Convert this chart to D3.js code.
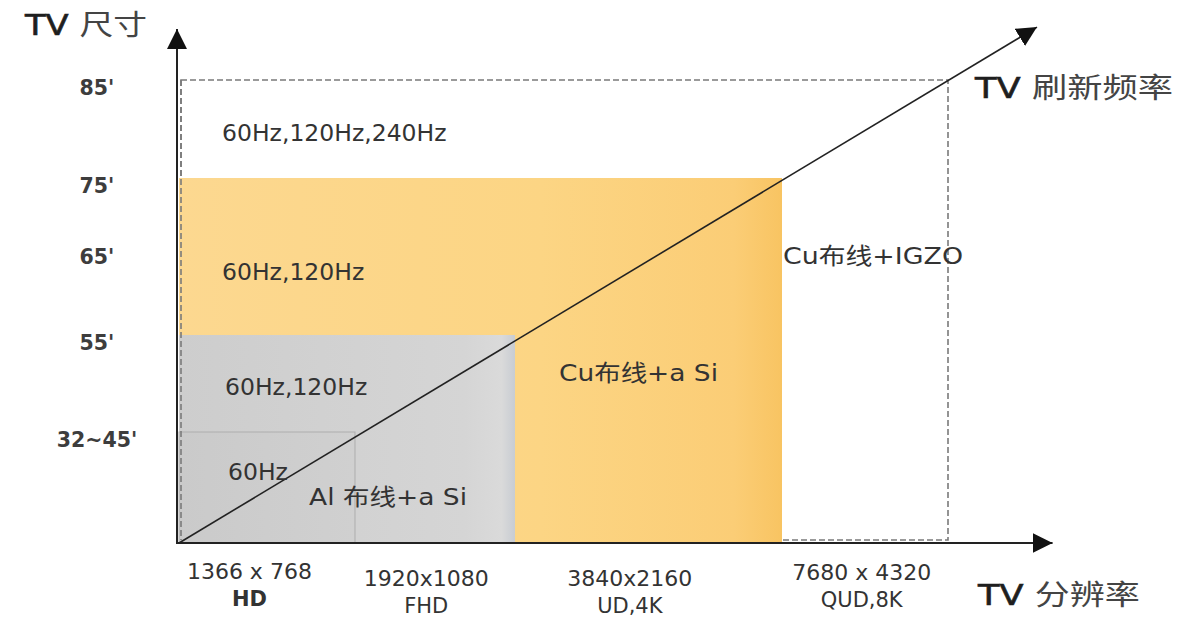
<!DOCTYPE html>
<html><head><meta charset="utf-8">
<script src="https://cdn.jsdelivr.net/npm/d3@7"></script>
<style>
body{margin:0;background:#fff}
text{font-family:"DejaVu Sans","Noto Sans CJK SC",sans-serif;fill:#333}
</style>
</head><body>
<svg id="c" width="1197" height="620"></svg>
<script>
// ---- data ----
const resolutions = ["1366 x 768","1920x1080","3840x2160","7680 x 4320"];
const resNames = ["HD","FHD","UD,4K","QUD,8K"];
const sizeLabels = ["32~45'","55'","65'","75'","85'"];
const sizeValues = [45,55,65,75,85];
const regionNames = ["outer","orange","grayUpper","grayLower"];
const regionRes = [4,3,2,1];             // region extends to this resolution tier
const regionSize = [85,75,55,45];        // region extends to this TV size
const regionTexts = ["60Hz,120Hz,240Hz","60Hz,120Hz","60Hz,120Hz","60Hz","Al 布线+a Si","Cu布线+a Si","Cu布线+IGZO"];
const titleLatin = ["TV","TV","TV"];
const titleCJK = ["尺寸","刷新频率","分辨率"];

// ---- layout ----
const x = d3.scaleLinear().domain([0,1,2,3,4]).range([179,355,515,782,948]);
const y = d3.scaleLinear().domain([0,45,55,65,75,85]).range([543,432,335,249,178,80]);
const tickPos = [0.40,0.445,0.43,0.48];
const tickDy = [-4,3,3,-3];
const regionTextLayout = [
  {x:222,y:133},{x:222,y:272},{x:225,y:387},{x:228,y:472},
  {x:309,y:497,w:158},{x:559,y:373,w:159},{x:783,y:256,w:180}
];
const titleLayout = [
  {x:25,y:25,w:122},{x:975,y:88,w:198},{x:978,y:595,w:162}
];

const svg = d3.select("#c");
const defs = svg.append("defs");
function grad(id, stops){
  const g = defs.append("linearGradient").attr("id",id).attr("x1","0").attr("x2","1").attr("y1","0").attr("y2","0");
  stops.forEach(s=>g.append("stop").attr("offset",s[0]).attr("stop-color",s[1]));
}
grad("og",[["0%","#fcd890"],["60%","#fcd584"],["92%","#fbcd76"],["100%","#f8c462"]]);
grad("gg",[["0%","#cdcdcd"],["85%","#d5d5d5"],["96%","#dadada"],["100%","#c8ccd2"]]);
grad("gg2",[["0%","#cacaca"],["100%","#d0d0d0"]]);
defs.append("marker").attr("id","ah").attr("viewBox","0 -5 10 10").attr("refX",10).attr("refY",0)
  .attr("markerUnits","userSpaceOnUse").attr("markerWidth",20).attr("markerHeight",20).attr("orient","auto")
  .append("path").attr("d","M0,-5L10,0L0,5Z").attr("fill","#111");

// dashed outer frame (under the fills)
const oi = regionNames.indexOf("outer");
const dash = {stroke:"#7a7a7a", w:1.6, d:"6,3"};
svg.append("rect")
  .attr("x",x(0)+2).attr("y",y(regionSize[oi]))
  .attr("width",x(regionRes[oi])-x(0)-2).attr("height",y(0)-y(regionSize[oi])-3)
  .attr("fill","none").attr("stroke",dash.stroke).attr("stroke-width",dash.w).attr("stroke-dasharray",dash.d);

// regions
const fills = {orange:"url(#og)",grayUpper:"url(#gg)",grayLower:"url(#gg2)"};
regionNames.forEach((n,i)=>{
  if(n==="outer") return;
  const r = svg.append("rect")
    .attr("x",x(0)).attr("y",y(regionSize[i]))
    .attr("width",x(regionRes[i])-x(0)).attr("height",y(0)-y(regionSize[i]))
    .attr("fill",fills[n]);
  if(n==="grayLower") r.attr("stroke","#adadad").attr("stroke-width",1);
});
// left dashed edge visible over the fills
svg.append("line").attr("x1",x(0)+2).attr("x2",x(0)+2).attr("y1",y(regionSize[oi])).attr("y2",y(0)-3)
  .attr("stroke",dash.stroke).attr("stroke-width",dash.w).attr("stroke-dasharray",dash.d);

// axes lines with arrows
svg.append("line").attr("x1",x(0)-2).attr("y1",y(0)).attr("x2",x(4.63)).attr("y2",y(0))
  .attr("stroke","#222").attr("stroke-width",2).attr("marker-end","url(#ah)");
svg.append("line").attr("x1",x(0)-2).attr("y1",y(0)+1).attr("x2",x(0)-2).attr("y2",y(90.2))
  .attr("stroke","#222").attr("stroke-width",2).attr("marker-end","url(#ah)");
// diagonal refresh-rate arrow
svg.append("line").attr("x1",x(0)).attr("y1",y(0)).attr("x2",x(4.536)).attr("y2",y(90.4))
  .attr("stroke","#222").attr("stroke-width",1.6).attr("marker-end","url(#ah)");

// y tick labels through an axis
const yAxis = d3.axisLeft(y).tickValues(sizeValues).tickFormat((d,i)=>sizeLabels[i]).tickSize(0);
const ya = svg.append("g").attr("transform","translate(97,0)").call(yAxis);
ya.select(".domain").remove();
ya.selectAll("text").attr("x",0).attr("dy","0.35em").attr("transform","translate(0,7)")
  .attr("text-anchor","middle").style("font-size","20.5px").style("font-weight","bold")
  .style("font-family",'"DejaVu Sans",sans-serif').style("fill","#3d3d3d");

// x tick labels
resolutions.forEach((r,i)=>{
  const cx = x(i+tickPos[i]);
  svg.append("text").attr("x",cx).attr("y",575+tickDy[i]).attr("dy","0.35em").attr("text-anchor","middle")
    .style("font-size","22px").text(r);
  svg.append("text").attr("x",cx).attr("y",603+tickDy[i]).attr("dy","0.35em").attr("text-anchor","middle")
    .style("font-size","21px").style("font-weight", i===0?"bold":"normal").text(resNames[i]);
});

// region texts
regionTexts.forEach((t,i)=>{
  const L = regionTextLayout[i];
  const tx = svg.append("text").attr("x",L.x).attr("y",L.y).attr("dy","0.35em")
    .style("font-size","23.5px").text(t);
  if(L.w) tx.attr("textLength",L.w).attr("lengthAdjust","spacingAndGlyphs").style("font-size","23px");
});

// axis titles
titleLatin.forEach((t,i)=>{
  const L = titleLayout[i];
  const tx = svg.append("text").attr("x",L.x).attr("y",L.y).attr("dy","0.35em")
    .style("font-size","28px").attr("textLength",L.w).attr("lengthAdjust","spacingAndGlyphs");
  tx.append("tspan").style("fill","#1e1e1e").style("stroke","#1e1e1e").style("stroke-width","0.6").text(t+" ");
  tx.append("tspan").style("fill","#444").text(titleCJK[i]);
});
</script>
</body></html>
